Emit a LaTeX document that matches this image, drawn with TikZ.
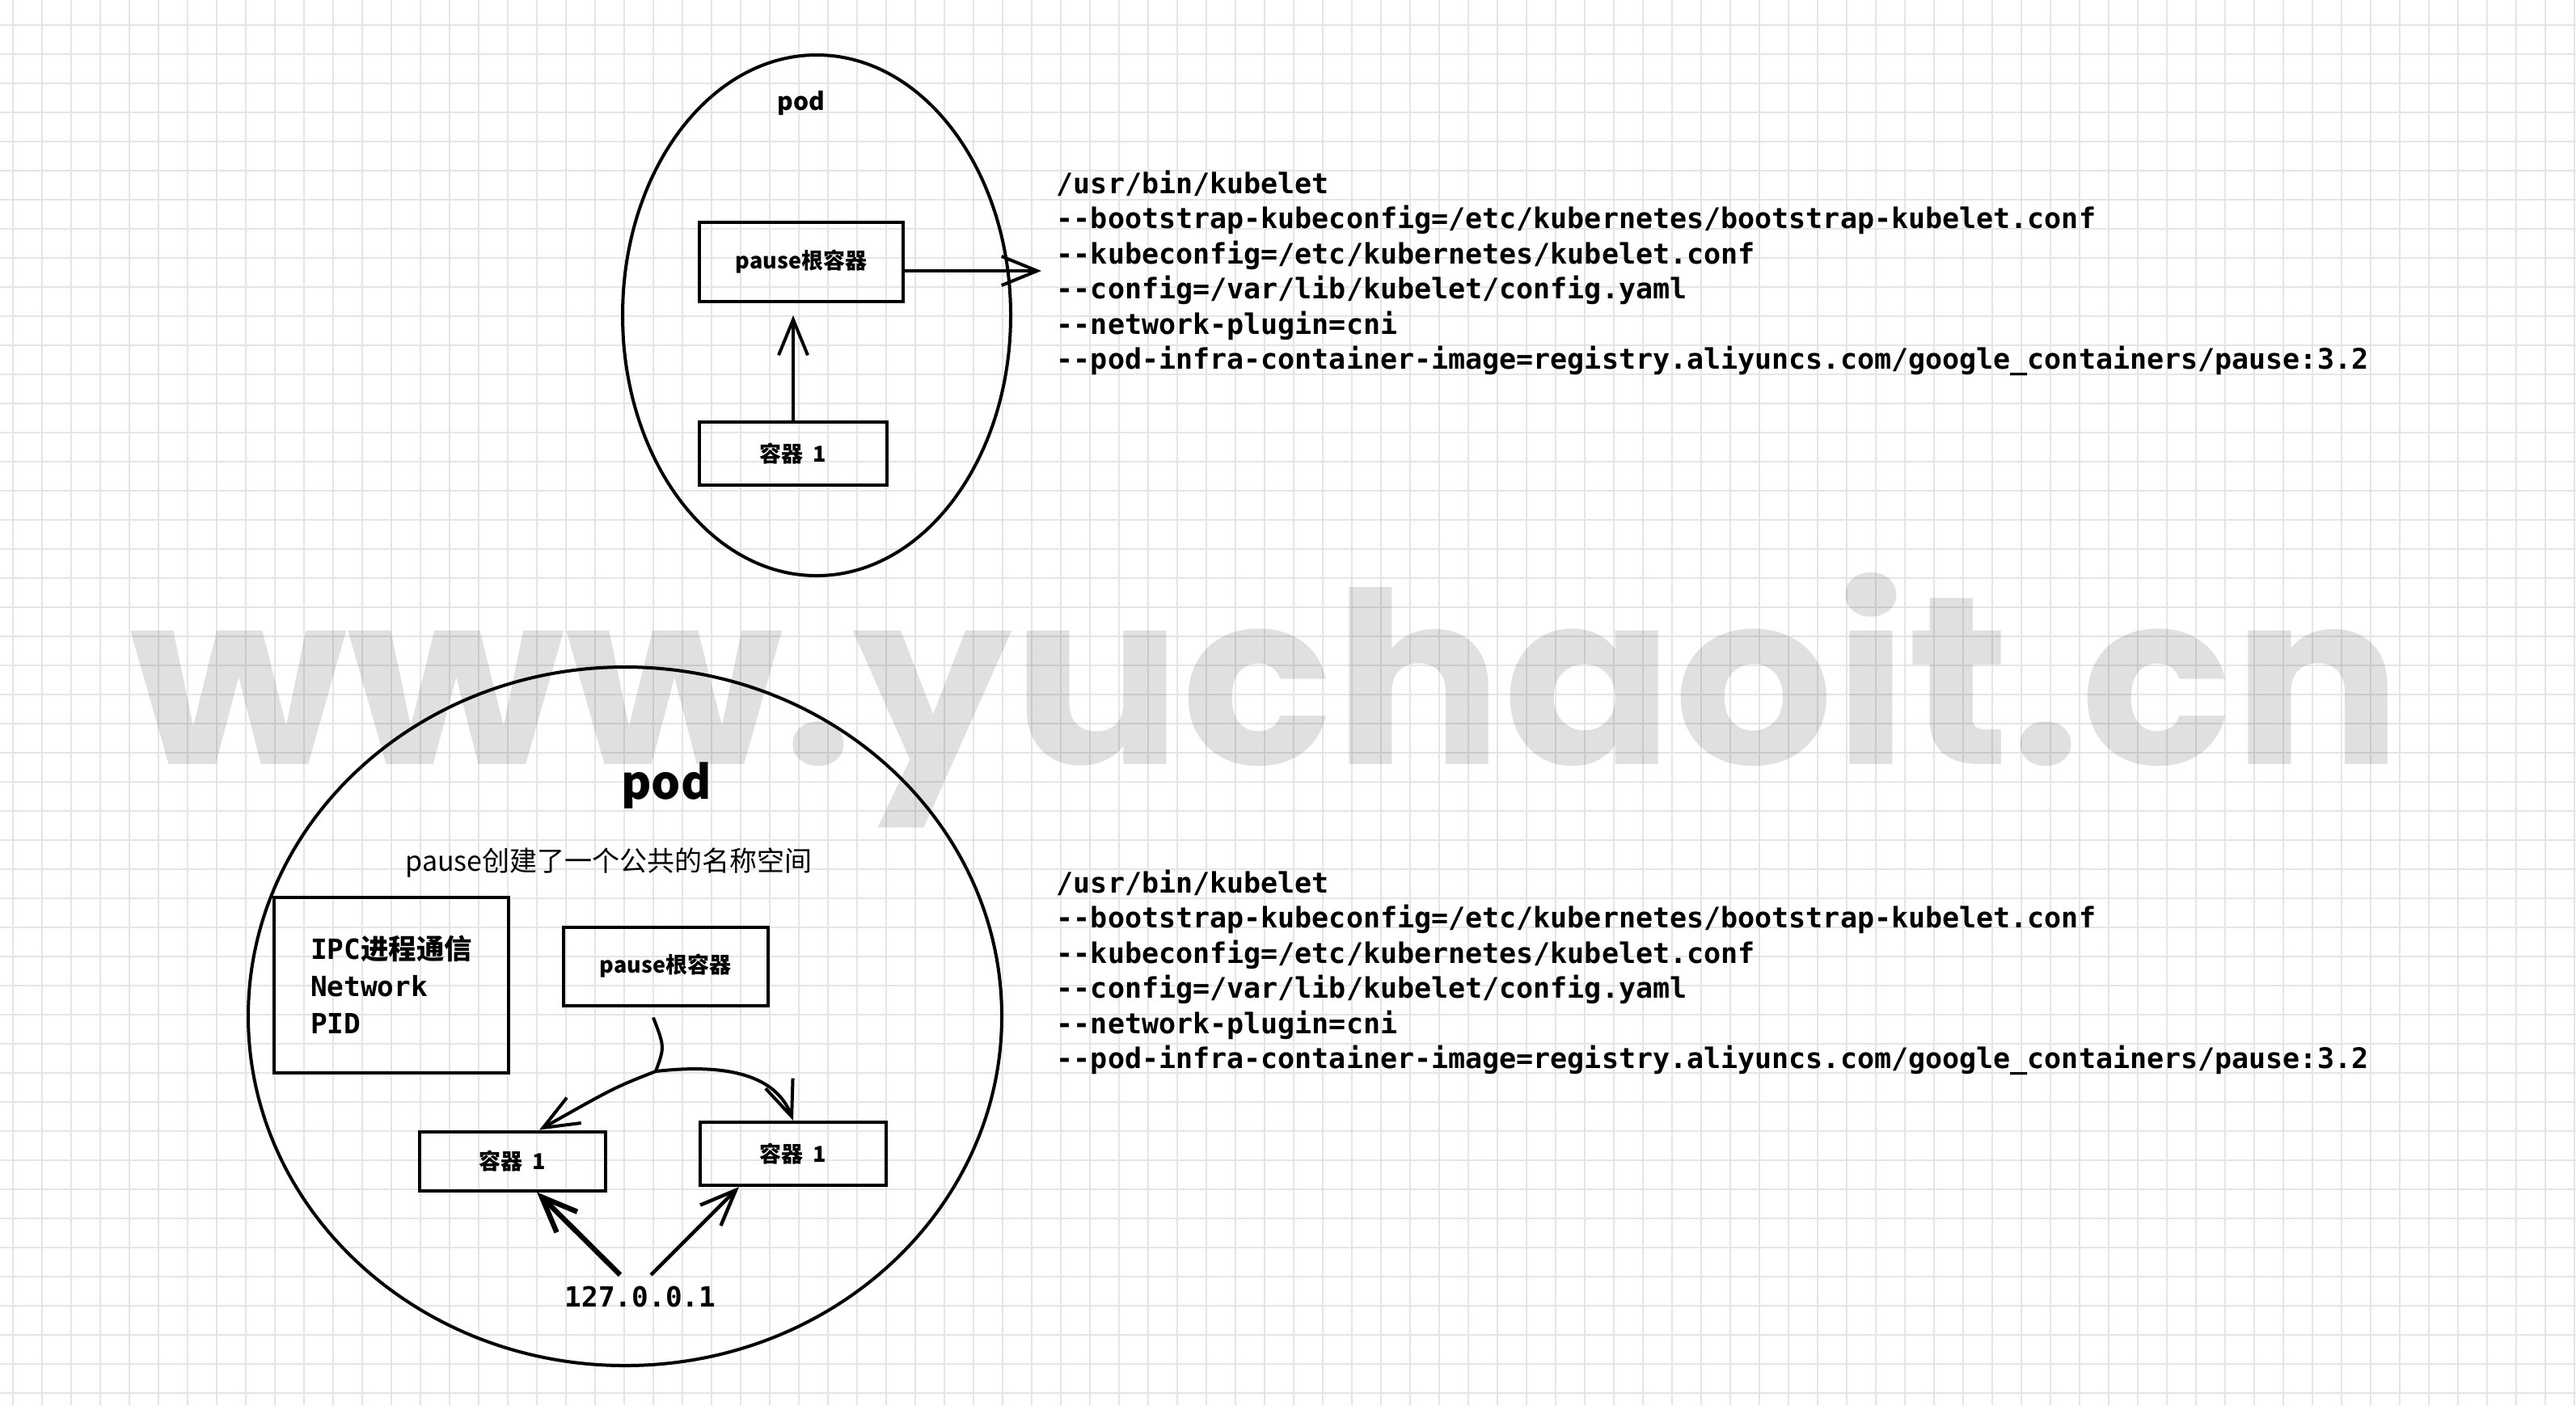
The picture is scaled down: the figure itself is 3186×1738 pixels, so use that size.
\documentclass[tikz,border=0pt]{standalone}
\usepackage{fontspec}
\usetikzlibrary{shapes.geometric,arrows.meta}
\newfontfamily\cjk{Noto Sans CJK SC}
\newfontfamily\codefont{DejaVu Sans Mono}
\newfontfamily\wmfont{Poppins}
\definecolor{gridline}{RGB}{229,229,229}
\newcommand\twodash{-\kern0pt-}

\begin{document}
\begin{tikzpicture}[x=0.25pt,y=-0.25pt,
	box/.style={draw,line width=1pt,inner sep=0pt,font=\cjk\bfseries\fontsize{6.75pt}{8pt}\selectfont},
	pen/.style={line width=1pt,-{Straight Barb[length=11pt,width=9pt]}},
	code/.style={anchor=north west,align=left,inner sep=0pt,font=\codefont\bfseries\fontsize{8.75pt}{10.875pt}\selectfont}]
		\fill[white] (0,0) rectangle (3186,1738);
		\useasboundingbox (0,0) rectangle (3186,1738);
		\foreach \x in {16,52,...,3186} \draw[gridline,line width=0.5pt] (\x,0) -- (\x,1738);
		\foreach \y in {31,67,...,1738} \draw[gridline,line width=0.5pt] (0,\y) -- (3186,\y);
		\node (wm) [black,text opacity=0.12,anchor=base,inner sep=0pt,xscale=1.05,font=\wmfont\bfseries\fontsize{74pt}{80pt}\selectfont] at (1566,945) {www.yuchaoit.cn};
		% upper pod
		\node (podA) [draw,ellipse,line width=1pt,minimum width=120pt,minimum height=161pt] at (1010,390) {};
		\node (tA) [font=\cjk\bfseries\fontsize{7.5pt}{9pt}\selectfont] at (991,128) {pod};
		\node (rA) [box,minimum width=63pt,minimum height=24.5pt] at (991,324) {pause根容器};
		\node (cA) [box,minimum width=58pt,minimum height=19.5pt] at (981,561) {容器\hspace{.45em}1};
		\coordinate (outA) at (1288,335);
		\draw[pen,shorten >=3.75pt] (cA.north) -- (cA.north |- rA.south);
		\draw[pen] (rA.east |- outA) -- (outA);
		\node (codeA) [code] at (1306,210) {/usr/bin/kubelet\\
			\twodash bootstrap-kubeconfig=/etc/kubernetes/bootstrap-kubelet.conf\\
			\twodash kubeconfig=/etc/kubernetes/kubelet.conf\\
			\twodash config=/var/lib/kubelet/config.yaml\\
			\twodash network-plugin=cni\\
			\twodash pod-infra-container-image=registry.aliyuncs.com/google\_containers/pause:3.2};
		% lower pod
		\node (podB) [draw,ellipse,line width=1pt,minimum width=233pt,minimum height=216pt] at (773,1257) {};
		\node (tB) [font=\cjk\bfseries\fontsize{14.25pt}{16pt}\selectfont] at (824,972) {pod};
		\node (ns) [font=\cjk\fontsize{8.5pt}{10pt}\selectfont] at (753,1067) {pause创建了一个公共的名称空间};
		\node (ipc) [draw,line width=1pt,minimum width=72.5pt,minimum height=54.25pt,align=left,font=\codefont\bfseries\fontsize{8.6pt}{11.5pt}\selectfont] at (484,1218) {IPC{\cjk 进程通信}\\Network\\PID};
		\node (rB) [box,minimum width=63.25pt,minimum height=24.25pt] at (823,1195) {pause根容器};
		\node (cB) [box,minimum width=57.5pt,minimum height=18.25pt] at (634,1436) {容器\hspace{.45em}1};
		\node (cC) [box,minimum width=57.5pt,minimum height=19.5pt] at (981,1427) {容器\hspace{.45em}1};
		\node (ip) [font=\codefont\bfseries\fontsize{8.6pt}{10pt}\selectfont] at (792,1604) {127.0.0.1};
		\coordinate (fork) at (811,1325);
		\draw[line width=1pt] ([xshift=-3.75pt,yshift=-3.25pt]rB.south) .. controls (822,1295) .. (fork);
		\draw[pen] (fork) .. controls (760,1345) .. ([xshift=8.25pt]cB.north);
		\draw[pen] (fork) .. controls (900,1315) and (960,1330) .. (cC.north);
		\draw[pen,line width=1.6pt] ([xshift=-6.25pt]ip.north) -- ([xshift=7.5pt]cB.south);
		\draw[pen,line width=1.1pt] ([xshift=3.25pt]ip.north) -- ([xshift=-16.75pt]cC.south);
		\node (codeB) [code] at (1306,1075) {/usr/bin/kubelet\\
			\twodash bootstrap-kubeconfig=/etc/kubernetes/bootstrap-kubelet.conf\\
			\twodash kubeconfig=/etc/kubernetes/kubelet.conf\\
			\twodash config=/var/lib/kubelet/config.yaml\\
			\twodash network-plugin=cni\\
			\twodash pod-infra-container-image=registry.aliyuncs.com/google\_containers/pause:3.2};
	\end{tikzpicture}
\end{document}
